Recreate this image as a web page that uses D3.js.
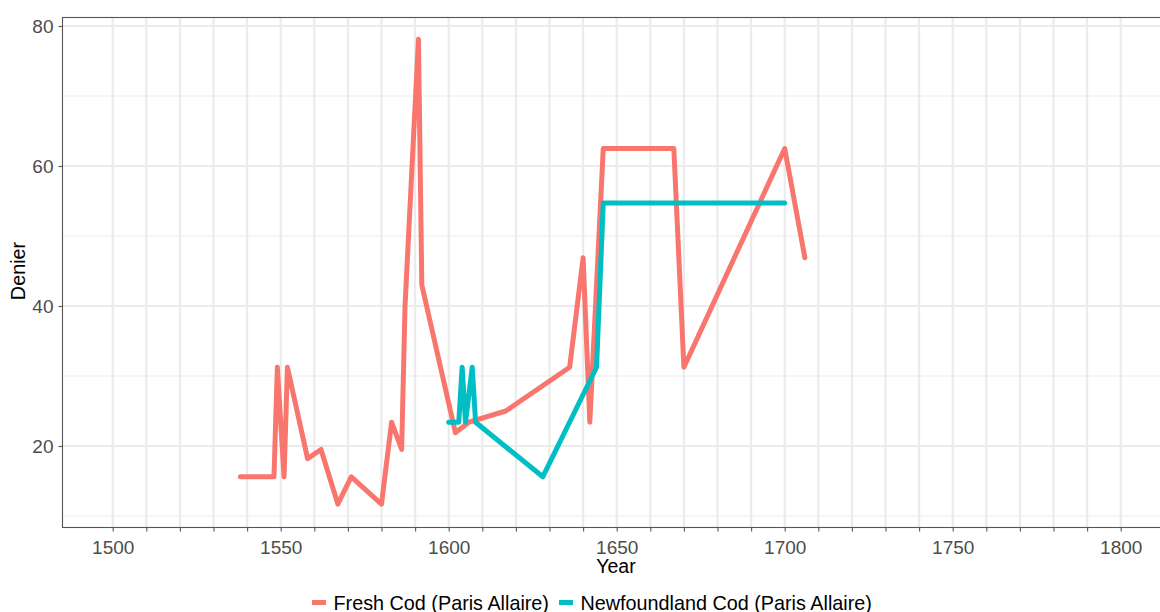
<!DOCTYPE html>
<html>
<head>
<meta charset="utf-8">
<script src="https://cdn.jsdelivr.net/npm/d3@7"></script>
<style>
  html, body { margin: 0; padding: 0; background: #fff; }
  svg { display: block; font-family: "Liberation Sans", Arial, sans-serif; }
</style>
</head>
<body>
<svg id="chart" width="1160" height="612"></svg>
<script>
// ---- data ----
const seriesNames = ["Fresh Cod (Paris Allaire)", "Newfoundland Cod (Paris Allaire)"];
const seriesColors = ["#F8766D", "#00BFC4"];

const freshYears  = [1538, 1548, 1549, 1551, 1552, 1558, 1562, 1567, 1571, 1580, 1583, 1586, 1587, 1591, 1592, 1602, 1606, 1617, 1636, 1640, 1642, 1646, 1667, 1670, 1700, 1706];
const freshValues = [15.6, 15.6, 31.25, 15.6, 31.25, 18.2, 19.5, 11.7, 15.6, 11.7, 23.4, 19.5, 40, 78.1, 43, 21.9, 23.4, 25, 31.25, 46.9, 23.4, 62.5, 62.5, 31.25, 62.5, 46.9];

const newfYears  = [1600, 1603, 1604, 1605, 1607, 1608, 1628, 1644, 1646, 1700];
const newfValues = [23.4, 23.4, 31.25, 23.4, 31.25, 23.4, 15.6, 31.25, 54.7, 54.7];

const xTickMajor = [1500, 1550, 1600, 1650, 1700, 1750, 1800];
const xTickAll = d3.range(1500, 1801, 10);
const yTickMajor = [20, 40, 60, 80];
const yTickMinor = [10, 30, 50, 70];

// ---- layout ----
const svg = d3.select("#chart");
const panel = { left: 62, top: 17, right: 1160, bottom: 527 };

const x = d3.scaleLinear().domain([1500, 1800]).range([112.7, 1120.7]);
const y = d3.scaleLinear().domain([20, 80]).range([446, 26]);

const g = svg.append("g");

// gridlines
g.selectAll("line.ymin").data(yTickMinor).join("line")
  .attr("x1", panel.left).attr("x2", panel.right)
  .attr("y1", d => y(d)).attr("y2", d => y(d))
  .attr("stroke", "#ebebeb").attr("stroke-width", 1.1);
g.selectAll("line.xg").data(xTickAll).join("line")
  .attr("x1", d => x(d)).attr("x2", d => x(d))
  .attr("y1", panel.top).attr("y2", panel.bottom)
  .attr("stroke", "#ebebeb").attr("stroke-width", 2.2);
g.selectAll("line.ymaj").data(yTickMajor).join("line")
  .attr("x1", panel.left).attr("x2", panel.right)
  .attr("y1", d => y(d)).attr("y2", d => y(d))
  .attr("stroke", "#ebebeb").attr("stroke-width", 2.2);

// panel border
g.append("rect")
  .attr("x", panel.left + 0.5).attr("y", panel.top + 0.5)
  .attr("width", panel.right - panel.left + 10).attr("height", panel.bottom - panel.top)
  .attr("fill", "none").attr("stroke", "#555").attr("stroke-width", 1.1);

// axes
const xAxis = d3.axisBottom(x).tickValues(xTickAll).tickSize(4)
  .tickFormat(d => xTickMajor.includes(d) ? d : "");
const xa = svg.append("g").attr("transform", `translate(0,${panel.bottom + 0.5})`).call(xAxis);
xa.select(".domain").remove();
xa.selectAll(".tick line").attr("stroke", "#555").attr("stroke-width", 1.1);
xa.selectAll(".tick text").attr("fill", "#4d4d4d").attr("font-size", "19px")
  .attr("font-family", "Liberation Sans, Arial, sans-serif").attr("dy", null).attr("y", 26);

const yAxis = d3.axisLeft(y).tickValues(yTickMajor).tickSize(4);
const ya = svg.append("g").attr("transform", `translate(${panel.left + 0.5},0)`).call(yAxis);
ya.select(".domain").remove();
ya.selectAll(".tick line").attr("stroke", "#555").attr("stroke-width", 1.1);
ya.selectAll(".tick text").attr("fill", "#4d4d4d").attr("font-size", "19px")
  .attr("font-family", "Liberation Sans, Arial, sans-serif").attr("x", -9).attr("dy", "0.35em");

// axis titles
svg.append("text").attr("x", 616).attr("y", 573).attr("text-anchor", "middle")
  .attr("font-size", "19.5px").attr("fill", "#000").text("Year");
svg.append("text").attr("transform", "translate(25,271) rotate(-90)").attr("text-anchor", "middle")
  .attr("font-size", "19.8px").attr("fill", "#000").text("Denier");

// lines
const line = d3.line().x(d => x(d[0])).y(d => y(d[1]));
const series = [
  d3.zip(freshYears, freshValues),
  d3.zip(newfYears, newfValues)
];
svg.append("g").selectAll("path").data(series).join("path")
  .attr("d", line)
  .attr("fill", "none")
  .attr("stroke", (d, i) => seriesColors[i])
  .attr("stroke-width", 5)
  .attr("stroke-linejoin", "round")
  .attr("stroke-linecap", "round");

// legend
const legendItems = [
  { keyX: 312, textX: 333.5, name: seriesNames[0], color: seriesColors[0] },
  { keyX: 559, textX: 580.5, name: seriesNames[1], color: seriesColors[1] }
];
const lg = svg.append("g");
lg.selectAll("line").data(legendItems).join("line")
  .attr("x1", d => d.keyX).attr("x2", d => d.keyX + 14)
  .attr("y1", 602.5).attr("y2", 602.5)
  .attr("stroke", d => d.color).attr("stroke-width", 5);
lg.selectAll("text").data(legendItems).join("text")
  .attr("x", d => d.textX).attr("y", 610)
  .attr("font-size", "19.8px").attr("fill", "#000")
  .text(d => d.name);
</script>
</body>
</html>
